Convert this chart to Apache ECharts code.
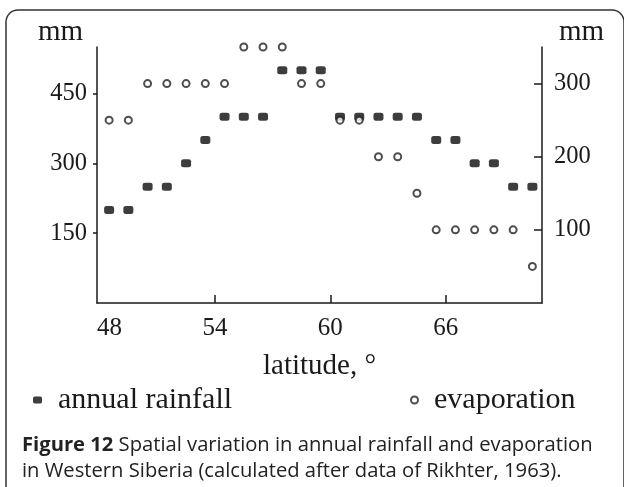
<!DOCTYPE html>
<html>
<head>
<meta charset="utf-8">
<script src="https://cdn.jsdelivr.net/npm/echarts@6/dist/echarts.min.js"></script>
<style>html,body{margin:0;padding:0;background:#fff}#c{width:624px;height:487px}</style>
</head>
<body>
<div id="c"></div>
<script>
const latitudes = [48.5,49.5,50.5,51.5,52.5,53.5,54.5,55.5,56.5,57.5,58.5,59.5,60.5,61.5,62.5,63.5,64.5,65.5,66.5,67.5,68.5,69.5,70.5];
const rainfall = [200,200,250,250,300,350,400,400,400,500,500,500,400,400,400,400,400,350,350,300,300,250,250];
const evaporation = [250,250,300,300,300,300,300,350,350,350,300,300,250,250,200,200,150,100,100,100,100,100,50];
const xTicks = [48,54,60,66];
const leftTicks = [150,300,450];
const rightTicks = [100,200,300];

const serif = '"Liberation Serif", "DejaVu Serif", serif';
const sans = '"Open Sans", "Noto Sans", sans-serif';
const ink = '#1a1a1a';

const chart = echarts.init(document.getElementById('c'), null, {renderer:'canvas'});
chart.setOption({
  animation:false,
  backgroundColor:'#fff',
  grid:{left:97, right:82, top:47, bottom:184},
  xAxis:{
    type:'value', min:47.87, max:71,
    name:'latitude, °', nameLocation:'middle', nameGap:49, nameMoveOverlap:false,
    nameTextStyle:{fontFamily:serif, fontSize:29, color:ink},
    axisLine:{show:true, lineStyle:{color:ink, width:1.5}},
    axisTick:{show:true, inside:true, length:8, customValues:[54,60,66], lineStyle:{color:ink, width:1.5}},
    axisLabel:{customValues:xTicks, fontFamily:serif, fontSize:25, color:ink, margin:13,
      formatter:function(v){ return v===48 ? '{a|48}' : String(v); },
      rich:{a:{padding:[0,0,0,20], fontFamily:serif, fontSize:25, color:ink}}},
    splitLine:{show:false}
  },
  yAxis:[{
    type:'value', min:0, max:550, position:'left',
    name:'mm', nameLocation:'end', nameGap:0, nameMoveOverlap:false,
    nameTextStyle:{fontFamily:serif, fontSize:29, color:ink, align:'right', padding:[0,14,0,0]},
    axisLine:{show:true, lineStyle:{color:ink, width:1.5}},
    axisTick:{show:true, inside:false, length:4, customValues:leftTicks, lineStyle:{color:ink, width:1.5}},
    axisLabel:{customValues:leftTicks, fontFamily:serif, fontSize:24.5, color:ink, margin:10},
    splitLine:{show:false}
  },{
    type:'value', min:0, max:350, position:'right',
    name:'mm', nameLocation:'end', nameGap:0, nameMoveOverlap:false,
    nameTextStyle:{fontFamily:serif, fontSize:29, color:ink, align:'left', padding:[0,0,0,17]},
    axisLine:{show:true, lineStyle:{color:ink, width:1.5}},
    axisTick:{show:true, inside:true, length:8, customValues:rightTicks, lineStyle:{color:ink, width:1.5}},
    axisLabel:{customValues:rightTicks, fontFamily:serif, fontSize:24.5, color:ink, margin:12},
    splitLine:{show:false}
  }],
  legend:[{
    data:[{name:'annual rainfall', icon:'roundRect'}],
    left:33, top:385, padding:0, itemWidth:9, itemHeight:7, itemGap:10,
    textStyle:{fontFamily:serif, fontSize:30, color:ink, padding:[0,0,12,11]}
  },{
    data:[{name:'evaporation', icon:'emptyCircle'}],
    left:410, top:385, padding:0, itemWidth:7, itemHeight:7, itemGap:10,
    textStyle:{fontFamily:serif, fontSize:30, color:ink, padding:[0,0,12,11]}
  }],
  series:[{
    name:'annual rainfall', type:'scatter', yAxisIndex:0,
    symbol:'roundRect', symbolSize:[10,8],
    itemStyle:{color:'#0d0d0d'},
    data:latitudes.map((x,i)=>[x, rainfall[i]])
  },{
    name:'evaporation', type:'scatter', yAxisIndex:1,
    symbol:'emptyCircle', symbolSize:7,
    itemStyle:{color:'#222', borderWidth:1.4, borderColor:'#222'},
    data:latitudes.map((x,i)=>[x, evaporation[i]])
  }],
  graphic:[{
    type:'rect', silent:true,
    shape:{x:6, y:10, width:618, height:500, r:12},
    style:{fill:'none', stroke:'#333', lineWidth:1.5}
  },{
    type:'text', left:22, top:432, silent:true,
    style:{
      text:'{b|Figure 12} Spatial variation in annual rainfall and evaporation\nin Western Siberia (calculated after data of Rikhter, 1963).',
      fontFamily:sans, fontSize:20.2, lineHeight:26, fill:'#222',
      rich:{b:{fontFamily:sans, fontSize:20.2, fontWeight:'bold', fill:'#222', lineHeight:26}}
    }
  }]
});
</script>
</body>
</html>
